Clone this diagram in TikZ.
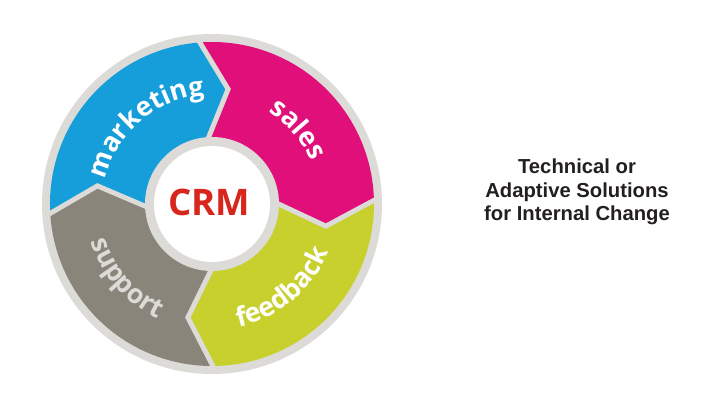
\documentclass[tikz,border=0pt]{standalone}
\usepackage{fontspec}
\usepackage{xcolor}
\usepackage{tikz}
\usetikzlibrary{decorations.text}
\setmainfont{Liberation Sans}
\newfontfamily\wheelfont{Open Sans}
\definecolor{mktblue}{HTML}{169EDB}
\definecolor{salespink}{HTML}{E00F7A}
\definecolor{feedlime}{HTML}{C8D02D}
\definecolor{suppgrey}{HTML}{89857A}
\definecolor{ringgrey}{HTML}{DDDBD7}
\definecolor{crmred}{HTML}{D9261C}
\definecolor{titleink}{HTML}{231F20}
\tikzset{
  wheellabel/.style 2 args={decorate, decoration={text along path, text align=center,
      text={|\wheelfont\bfseries\fontsize{19}{19}\selectfont\color{#2}|#1}}},
  crmtext/.style={font=\wheelfont\bfseries\fontsize{26}{26}\selectfont, text=crmred, inner sep=0pt},
  titletext/.style={font=\bfseries\fontsize{14.4}{16.7}\selectfont, text=titleink, align=center}
}

\begin{document}
\begin{tikzpicture}[scale=0.025]
    \useasboundingbox (-212,-201) rectangle (508,204);
    \fill[ringgrey] (0,0) circle (170);
    % the four arrow segments
    \foreach \a/\b/\c in {184/95/mktblue, 95/2/salespink, 2/-89/feedlime, -89/-176/suppgrey}{
      \fill[\c] (\a:162) arc[start angle=\a, end angle=\b, radius=162]
        -- ({\b-13}:116) -- (\b:64) arc[start angle=\b, end angle=\a, radius=64]
        -- ({\a-13}:116) -- cycle;
    }
    \foreach \a in {184, 95, 2, -89}
      \draw[ringgrey, line width=3.5pt] (\a:166) -- ({\a-13}:116) -- (\a:62);
    \fill[ringgrey] (0,0) circle (67);
    \fill[white] (0,0) circle (58);
    \node[crmtext, anchor=base] (crm) at (-3,-11) {CRM};
    % labels on the ring
    \path[wheellabel={marketing}{white}] (175:109) arc[start angle=175, end angle=86, radius=109];
    \path[wheellabel={sales}{white}] (86:108) arc[start angle=86, end angle=-4, radius=108];
    \path[wheellabel={feedback}{white}] (-95:126) arc[start angle=-95, end angle=-5, radius=126];
    \path[wheellabel={support}{ringgrey}] (176:127) arc[start angle=176, end angle=266, radius=127];
    \node[titletext] (title) at (365,12) {Technical or\\Adaptive Solutions\\for Internal Change};
\end{tikzpicture}
\end{document}
